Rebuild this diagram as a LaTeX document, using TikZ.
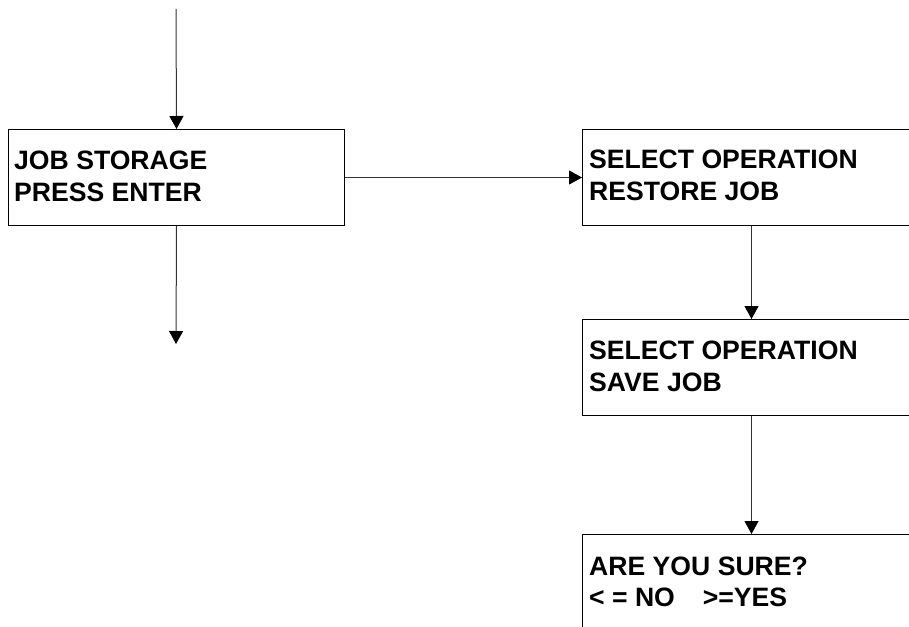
\documentclass[tikz,border=0pt]{standalone}
\usepackage{fontspec}
\setmainfont{Liberation Sans}
\usetikzlibrary{arrows.meta}
\begin{document}
\begin{tikzpicture}[x=1pt,y=-1pt,
  box/.style={draw=black, line width=1pt, rectangle, inner sep=0pt, anchor=north west, minimum width=336pt, minimum height=96pt},
  rbox/.style={box, minimum width=338pt},
  txt/.style={anchor=base west, inner sep=0pt, font=\fontsize{26.6}{32}\selectfont\bfseries},
  conn/.style={draw=black!80, line width=1pt, -{Triangle[width=14pt,length=13pt,color=black,fill=black]}}]
\useasboundingbox (0,0) rectangle (909,626);
\clip (0,0) rectangle (909,626);
\node[box] (js) at (8,129) {};
\node[rbox] (r1) at (582,129) {};
\node[rbox] (r2) at (582,319) {};
\node[rbox] (r3) at (582,534) {};
\node[txt] (t1) at (14,169) {JOB STORAGE};
\node[txt] (t2) at (14,201) {PRESS ENTER};
\node[txt] (t3) at (589,168) {SELECT OPERATION};
\node[txt] (t4) at (589,200) {RESTORE JOB};
\node[txt] (t5) at (589,359) {SELECT OPERATION};
\node[txt] (t6) at (589,391) {SAVE JOB};
\node[txt] (t7) at (589,575) {ARE YOU SURE?};
\node[txt] (t8) at (589,606) {< = NO\hspace{1.05em}>=YES};
\coordinate (top) at (176,9);
\coordinate (down) at (176,344);
\draw[conn] (top) -- (js.north);
\draw[conn] (js.south) -- (down);
\draw[conn] (js.east) -- (r1.west);
\draw[conn] (r1.south) -- (r2.north);
\draw[conn] (r2.south) -- (r3.north);
\end{tikzpicture}
\end{document}
